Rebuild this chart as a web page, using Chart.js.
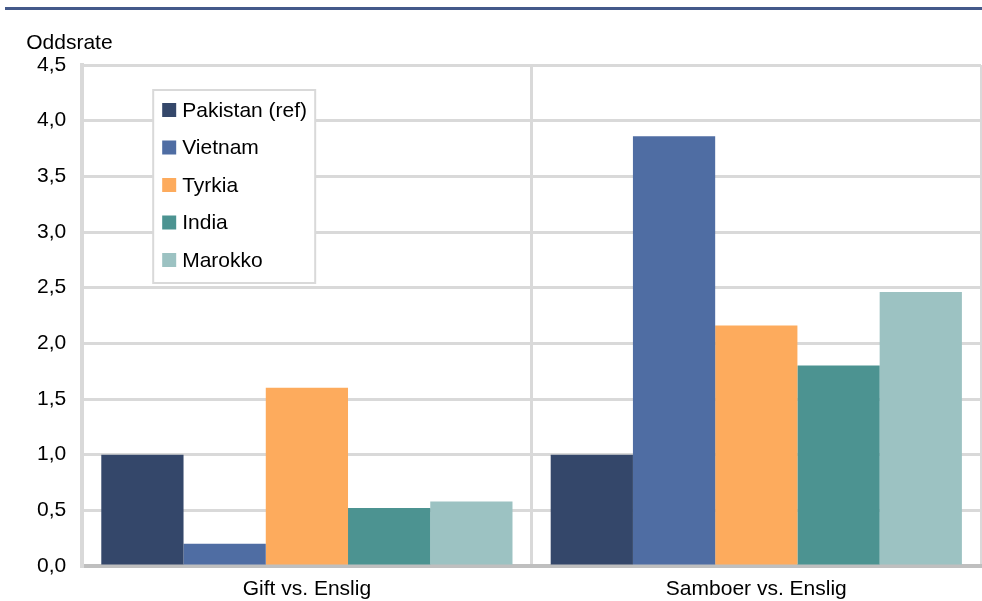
<!DOCTYPE html>
<html>
<head>
<meta charset="utf-8">
<script src="https://cdn.jsdelivr.net/npm/chart.js@4.4.0/dist/chart.umd.min.js"></script>
<style>
  html, body { margin: 0; padding: 0; background: #ffffff; }
  #wrap { position: relative; width: 982px; height: 601px; }
</style>
</head>
<body>
<div id="wrap"><canvas id="c"></canvas></div>
<script>
const categories = ["Gift vs. Enslig", "Samboer vs. Enslig"];
const seriesNames = ["Pakistan (ref)", "Vietnam", "Tyrkia", "India", "Marokko"];
const pakistan = [1.0, 1.0];
const vietnam = [0.2, 3.86];
const tyrkia = [1.6, 2.16];
const india = [0.52, 1.8];
const marokko = [0.58, 2.46];
const seriesColors = ["#34476A", "#4F6DA3", "#FDAB5D", "#4C9391", "#9CC2C2"];
const yTicks = [0, 0.5, 1, 1.5, 2, 2.5, 3, 3.5, 4, 4.5];
const yTitle = "Oddsrate";

const FONT = "'Liberation Sans', Arial, sans-serif";
const FSIZE = 21;
const seriesValues = [pakistan, vietnam, tyrkia, india, marokko];

const decorPlugin = {
  id: 'decor',
  beforeDraw(chart) {
    const ctx = chart.ctx;
    ctx.save();
    ctx.fillStyle = '#44598A';
    ctx.fillRect(5, 7, chart.width - 5, 3);
    ctx.restore();
  },
  afterDraw(chart) {
    const ctx = chart.ctx;
    const a = chart.chartArea;
    ctx.save();
    ctx.font = FSIZE + 'px ' + FONT;
    ctx.fillStyle = '#000';
    ctx.textBaseline = 'middle';
    ctx.textAlign = 'left';
    ctx.fillText(yTitle, a.left - 56, a.top - 22);
    const bx = a.left + 71, by = a.top + 25, bw = 162, bh = 193;
    ctx.fillStyle = '#fff';
    ctx.fillRect(bx, by, bw, bh);
    ctx.strokeStyle = '#D9D9D9';
    ctx.lineWidth = 2;
    ctx.strokeRect(bx, by, bw, bh);
    chart.data.datasets.forEach((ds, i) => {
      const cy = by + 20 + i * 37.5;
      ctx.fillStyle = ds.backgroundColor;
      ctx.fillRect(bx + 9, cy - 7, 14, 14);
      ctx.fillStyle = '#000';
      ctx.fillText(ds.label, bx + 29, cy + 1);
    });
    ctx.restore();
  }
};

new Chart(document.getElementById('c'), {
  type: 'bar',
  data: {
    labels: categories,
    datasets: seriesNames.map((n, i) => ({
      label: n,
      data: seriesValues[i],
      backgroundColor: seriesColors[i],
      borderWidth: 0,
      categoryPercentage: 0.915,
      barPercentage: 1.0
    }))
  },
  options: {
    responsive: true,
    maintainAspectRatio: false,
    animation: false,
    layout: { padding: { top: 65, right: 1, left: 21, bottom: -12 } },
    plugins: {
      legend: { display: false },
      tooltip: { enabled: false },
      title: { display: false }
    },
    scales: {
      x: {
        offset: true,
        grid: {
          offset: true,
          drawTicks: false,
          color: '#D9D9D9',
          lineWidth: (c) => (c.index === categories.length ? 1 : 3)
        },
        border: { color: '#BFBFBF', width: 4 },
        ticks: {
          color: '#000',
          font: { family: FONT, size: FSIZE, lineHeight: 1.0 },
          padding: 13
        }
      },
      y: {
        min: yTicks[0],
        max: yTicks[yTicks.length - 1],
        afterBuildTicks: (scale) => { scale.ticks = yTicks.map(v => ({ value: v })); },
        grid: { drawTicks: false, color: '#D9D9D9', lineWidth: 3 },
        border: { color: '#D9D9D9', width: 4 },
        ticks: {
          color: '#000',
          font: { family: FONT, size: FSIZE },
          padding: 16,
          callback: (v) => Number(v).toFixed(1).replace('.', ',')
        }
      }
    }
  },
  plugins: [decorPlugin]
});
</script>
</body>
</html>
